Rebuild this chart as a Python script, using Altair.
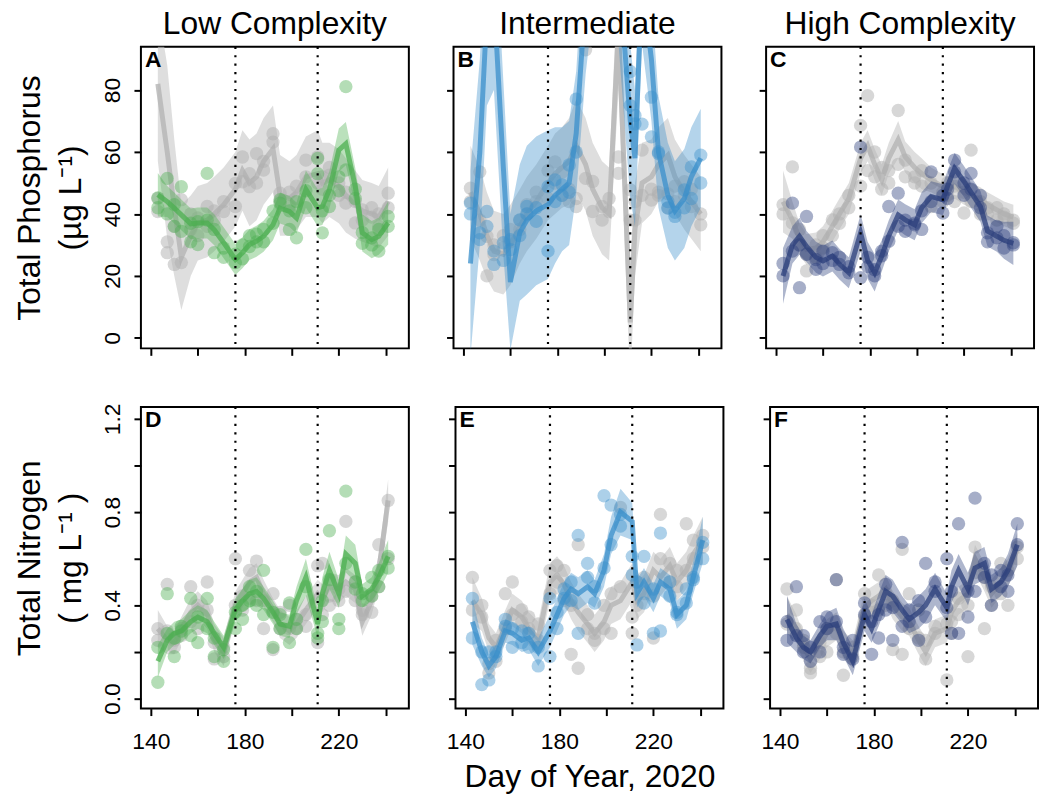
import altair as alt
import pandas as pd

FONT = "Liberation Sans"

# ---------------- shared values ----------------
days = [143, 147, 150, 153, 157, 160, 164, 167, 171, 176, 179, 182, 185, 188, 192,
        195, 199, 202, 206, 211, 213, 216, 220, 223, 227, 230, 234, 237, 241]
intervention_days = [176, 211]
x_ticks = [140, 160, 180, 200, 220, 240]
tp_ticks = [0, 20, 40, 60, 80]
tn_ticks = [0, 0.2, 0.4, 0.6, 0.8, 1.0, 1.2]
column_titles = ["Low Complexity", "Intermediate", "High Complexity"]
panel_letters = ["A", "B", "C", "D", "E", "F"]

# ---------------- Panel A : TP, low complexity ----------------
A_grey_line = [82, 60, 42, 26, 33, 37, 38, 40, 43, 48, 54, 50, 52, 57, 61, 46, 45, 47, 52, 53, 50, 51, 49, 46, 43, 41, 40, 39, 44]
A_grey_hw = [25, 28, 22, 17, 13, 12, 12, 12, 12, 12, 13, 14, 14, 14, 14, 13, 12, 12, 13, 14, 13, 12, 12, 12, 11, 10, 10, 10, 11]
A_grey_p1 = [40.8, 27.5, 23.7, 24.3, 35.0, 38.7, 42.4, 38.0, 40.8, 49.9, 50.4, 48.8, 59.5, 54.2, 63.2, 46.7, 42.4, 45.0, 57.4, 58.4, 52.0, 52.5, 46.0, 43.5, 37.1, 41.3, 39.0, 36.0, 46.7]
A_grey_p2 = [45.0, 31.0, 36.0, 44.6, 40.0, 33.0, 36.0, 41.0, 44.0, 42.4, 58.4, 53.0, 50.0, 57.0, 65.9, 44.0, 47.0, 49.0, 52.0, 50.0, 48.0, 55.0, 50.0, 47.0, 44.0, 38.0, 42.0, 40.0, 42.0]
A_trt_line = [46.2, 44.0, 41.9, 39.7, 36.8, 37.1, 37.1, 34.9, 30.7, 25.3, 27.5, 30.1, 31.2, 32.8, 36.5, 41.9, 40.8, 38.7, 48.0, 42.0, 42.4, 47.8, 60.6, 62.7, 48.8, 33.9, 31.7, 32.8, 37.1]
A_trt_hw = [7, 5, 5, 5, 5, 5, 5, 5, 5, 5, 5, 5, 5, 5, 5, 5, 5, 5, 6, 6, 6, 6, 7, 7, 6, 6, 6, 6, 7]
A_trt_p1 = [45.2, 51.5, 36.0, 48.8, 37.0, 30.1, 53.1, 27.5, 26.0, 24.3, 25.5, 29.5, 33.5, 31.0, 41.0, 44.6, 35.0, 32.3, 47.5, 57.9, 33.9, 42.4, 52.0, 81.1, 45.0, 30.5, 32.3, 28.0, 39.2]
A_trt_p2 = [42.0, 40.0, 43.0, 34.4, 31.0, 37.5, 38.0, 35.0, 29.0, 27.0, 30.0, 33.0, 31.0, 35.0, 37.0, 43.5, 41.0, 44.0, 42.0, 53.0, 41.0, 46.0, 47.5, 54.2, 48.0, 34.0, 30.0, 35.0, 36.0]

# ---------------- Panel B : TP, intermediate ----------------
B_grey_line = [47, 40, 33, 28, 27, 30, 36, 40, 44, 50, 53, 55, 57, 62, 56, 48, 42, 40, 100, 5, 35, 50, 52, 56, 59, 52, 47, 44, 40]
B_grey_hw = [15, 15, 14, 13, 13, 13, 12, 12, 12, 12, 13, 13, 14, 15, 15, 15, 15, 15, 20, 20, 15, 13, 12, 12, 12, 12, 12, 12, 12]
B_grey_p1 = [48.3, 53.6, 20.0, 26.9, 29.0, 35.0, 35.0, 40.0, 44.0, 54.0, 56.8, 53.5, 44.0, 45.0, 93.0, 50.5, 42.4, 40.8, 53.1, 47.8, 38.0, 46.0, 44.5, 47.0, 46.5, 49.0, 50.4, 42.4, 36.5]
B_grey_p2 = [44.0, 38.0, 32.8, 30.0, 33.0, 31.0, 38.0, 43.0, 47.0, 45.0, 50.0, 46.0, 48.0, 42.4, 51.5, 40.8, 38.0, 45.0, 58.4, 38.0, 44.0, 60.6, 48.0, 46.0, 42.0, 44.0, 46.0, 48.0, 40.0]
B_trt_line = [24, 60, 105, 110, 55, 18, 34, 38, 41, 43, 46, 48, 50, 66, 110, 130, 140, 130, 120, 70, 58, 115, 90, 60, 46, 41, 45, 52, 58]
B_trt_hw = [30, 30, 30, 30, 28, 22, 22, 24, 24, 24, 22, 20, 20, 20, 25, 25, 25, 25, 25, 25, 22, 20, 20, 18, 17, 16, 16, 16, 16]
B_trt_p1 = [43.5, 33.9, 40.8, 23.7, 30.7, 28.5, 38.1, 42.4, 42.0, 48.8, 51.0, 49.4, 55.8, 77.1, 100, 120, 130, 120, 110, 86.0, 71.8, 69.0, 64.9, 59.5, 41.9, 40.5, 47.8, 55.2, 59.0]
B_trt_p2 = [40.0, 31.7, 36.0, 28.0, 25.0, 31.7, 33.0, 40.0, 37.6, 28.0, 44.0, 46.0, 47.0, 60.0, 110, 105, 115, 125, 100, 75.0, 69.1, 100, 77.7, 60.0, 44.0, 39.2, 42.0, 45.0, 50.0]

# ---------------- Panel C : TP, high complexity ----------------
C_grey_line = [44, 38, 32, 28.5, 29, 31, 36, 40, 45, 58, 62, 56, 51, 58, 64, 58.4, 55, 53, 51, 48.8, 48, 49, 47, 46, 44.6, 43, 41.3, 40, 39]
C_grey_hw = [10, 6, 5, 5, 5, 5, 5, 5, 5, 5, 5, 5, 5, 5, 6, 5, 5, 5, 4, 4, 4, 4, 4, 4, 4, 4, 4, 4, 4]
C_grey_p1 = [43.0, 37.1, 35.0, 21.6, 26.0, 33.0, 38.1, 40.0, 46.0, 68.6, 78.2, 60.0, 48.0, 54.0, 73.4, 52.0, 52.0, 49.0, 50.0, 44.0, 46.0, 49.0, 40.3, 60.6, 40.0, 40.0, 42.0, 39.0, 38.0]
C_grey_p2 = [40.0, 55.2, 30.0, 27.0, 30.0, 29.0, 33.0, 37.0, 42.0, 49.0, 54.0, 52.0, 55.0, 50.0, 56.0, 57.4, 50.0, 54.0, 42.4, 47.0, 50.0, 44.0, 47.0, 44.0, 44.0, 42.0, 38.0, 40.0, 37.0]
C_trt_line = [20.0, 30.0, 32.8, 29.5, 26.0, 24.8, 26.4, 23.8, 21.0, 33.9, 25.0, 21.0, 26.4, 33.0, 39.7, 38.1, 36.5, 42.0, 45.6, 44.6, 49.0, 54.7, 50.5, 47.0, 42.4, 34.5, 32.8, 31.5, 30.5]
C_trt_hw = [9, 6, 6, 5, 5, 5, 5, 5, 5, 6, 6, 6, 5, 5, 5, 5, 5, 5, 5, 5, 5, 5, 5, 5, 5, 5, 5, 6, 7]
C_trt_p1 = [20.0, 43.5, 16.2, 39.2, 25.3, 28.0, 25.0, 23.7, 21.0, 61.6, 23.0, 20.0, 26.5, 42.4, 46.7, 34.4, 36.5, 35.0, 53.6, 46.0, 45.0, 57.4, 50.0, 48.0, 42.0, 33.9, 32.3, 29.0, 30.7]
C_trt_p2 = [24.0, 28.0, 30.0, 27.0, 22.1, 24.0, 27.5, 26.0, 23.0, 19.4, 26.0, 22.0, 28.0, 31.2, 36.0, 38.0, 37.0, 41.0, 44.0, 40.3, 48.0, 53.6, 46.0, 53.1, 46.0, 31.0, 36.0, 33.0, 30.0]

# ---------------- Panel D : TN, low complexity ----------------
D_grey_line = [0.30, 0.25, 0.24, 0.30, 0.37, 0.40, 0.36, 0.26, 0.20, 0.40, 0.45, 0.50, 0.52, 0.45, 0.38, 0.32, 0.29, 0.32, 0.38, 0.45, 0.43, 0.48, 0.47, 0.50, 0.47, 0.33, 0.42, 0.55, 0.85]
D_grey_hw = [0.08, 0.06, 0.05, 0.05, 0.06, 0.06, 0.06, 0.06, 0.06, 0.06, 0.06, 0.06, 0.06, 0.06, 0.05, 0.06, 0.06, 0.06, 0.06, 0.06, 0.06, 0.06, 0.06, 0.06, 0.06, 0.06, 0.06, 0.07, 0.09]
D_grey_p1 = [0.25, 0.49, 0.25, 0.30, 0.48, 0.30, 0.50, 0.17, 0.18, 0.60, 0.38, 0.55, 0.59, 0.30, 0.21, 0.30, 0.30, 0.30, 0.31, 0.57, 0.58, 0.44, 0.47, 0.76, 0.42, 0.36, 0.37, 0.66, 0.85]
D_grey_p2 = [0.30, 0.29, 0.22, 0.27, 0.33, 0.40, 0.38, 0.24, 0.22, 0.40, 0.44, 0.43, 0.42, 0.42, 0.45, 0.37, 0.40, 0.34, 0.36, 0.24, 0.36, 0.40, 0.42, 0.46, 0.50, 0.38, 0.44, 0.48, 0.60]
D_trt_line = [0.16, 0.25, 0.28, 0.29, 0.33, 0.35, 0.33, 0.28, 0.22, 0.38, 0.42, 0.45, 0.46, 0.43, 0.37, 0.32, 0.31, 0.42, 0.52, 0.32, 0.45, 0.55, 0.45, 0.62, 0.58, 0.44, 0.47, 0.52, 0.61]
D_trt_hw = [0.07, 0.05, 0.05, 0.05, 0.05, 0.05, 0.05, 0.05, 0.05, 0.05, 0.05, 0.06, 0.06, 0.05, 0.05, 0.05, 0.05, 0.06, 0.08, 0.06, 0.07, 0.08, 0.06, 0.08, 0.08, 0.05, 0.05, 0.06, 0.07]
D_trt_p1 = [0.07, 0.45, 0.18, 0.29, 0.43, 0.24, 0.43, 0.18, 0.16, 0.37, 0.40, 0.48, 0.46, 0.55, 0.22, 0.36, 0.24, 0.34, 0.64, 0.26, 0.33, 0.72, 0.34, 0.89, 0.47, 0.42, 0.52, 0.48, 0.61]
D_trt_p2 = [0.22, 0.28, 0.26, 0.31, 0.27, 0.35, 0.30, 0.26, 0.21, 0.30, 0.34, 0.42, 0.40, 0.36, 0.37, 0.30, 0.41, 0.30, 0.48, 0.28, 0.42, 0.51, 0.30, 0.58, 0.50, 0.45, 0.44, 0.55, 0.56]

# ---------------- Panel E : TN, intermediate ----------------
E_grey_line = [0.42, 0.36, 0.26, 0.22, 0.31, 0.38, 0.35, 0.30, 0.26, 0.50, 0.53, 0.49, 0.42, 0.37, 0.32, 0.28, 0.33, 0.40, 0.42, 0.50, 0.42, 0.45, 0.55, 0.52, 0.57, 0.50, 0.55, 0.62, 0.68]
E_grey_hw = [0.10, 0.07, 0.06, 0.06, 0.07, 0.07, 0.07, 0.07, 0.07, 0.08, 0.08, 0.08, 0.08, 0.08, 0.08, 0.08, 0.08, 0.08, 0.08, 0.08, 0.08, 0.08, 0.08, 0.08, 0.08, 0.08, 0.08, 0.08, 0.10]
E_grey_p1 = [0.38, 0.35, 0.11, 0.16, 0.30, 0.50, 0.33, 0.30, 0.25, 0.45, 0.57, 0.55, 0.19, 0.66, 0.30, 0.25, 0.40, 0.28, 0.82, 0.28, 0.40, 0.45, 0.26, 0.79, 0.58, 0.48, 0.75, 0.68, 0.70]
E_grey_p2 = [0.52, 0.40, 0.15, 0.25, 0.45, 0.36, 0.38, 0.35, 0.32, 0.55, 0.50, 0.42, 0.40, 0.13, 0.36, 0.28, 0.30, 0.45, 0.48, 0.35, 0.50, 0.52, 0.44, 0.60, 0.50, 0.55, 0.55, 0.60, 0.65]
E_trt_line = [0.33, 0.20, 0.14, 0.18, 0.29, 0.28, 0.25, 0.26, 0.20, 0.29, 0.36, 0.43, 0.47, 0.45, 0.48, 0.45, 0.55, 0.70, 0.80, 0.76, 0.45, 0.50, 0.43, 0.50, 0.47, 0.36, 0.40, 0.52, 0.68]
E_trt_hw = [0.10, 0.06, 0.05, 0.05, 0.05, 0.05, 0.05, 0.05, 0.06, 0.07, 0.07, 0.07, 0.07, 0.07, 0.07, 0.06, 0.07, 0.08, 0.10, 0.08, 0.06, 0.06, 0.06, 0.06, 0.06, 0.06, 0.06, 0.07, 0.10]
E_trt_p1 = [0.26, 0.06, 0.08, 0.20, 0.31, 0.22, 0.29, 0.22, 0.14, 0.18, 0.30, 0.43, 0.42, 0.70, 0.58, 0.41, 0.87, 0.83, 0.79, 0.61, 0.23, 0.61, 0.28, 0.71, 0.50, 0.37, 0.41, 0.51, 0.67]
E_trt_p2 = [0.43, 0.20, 0.20, 0.18, 0.34, 0.30, 0.24, 0.28, 0.22, 0.43, 0.37, 0.47, 0.50, 0.28, 0.52, 0.48, 0.56, 0.66, 0.74, 0.53, 0.50, 0.41, 0.47, 0.29, 0.44, 0.36, 0.47, 0.52, 0.60]

# ---------------- Panel F : TN, high complexity ----------------
F_grey_line = [0.36, 0.30, 0.22, 0.17, 0.23, 0.28, 0.31, 0.23, 0.19, 0.39, 0.42, 0.44, 0.47, 0.40, 0.35, 0.33, 0.25, 0.20, 0.28, 0.30, 0.37, 0.42, 0.45, 0.60, 0.52, 0.45, 0.50, 0.54, 0.64]
F_grey_hw = [0.08, 0.06, 0.06, 0.06, 0.06, 0.06, 0.06, 0.06, 0.06, 0.07, 0.06, 0.06, 0.06, 0.06, 0.06, 0.06, 0.06, 0.06, 0.06, 0.06, 0.06, 0.06, 0.06, 0.06, 0.06, 0.06, 0.06, 0.06, 0.07]
F_grey_p1 = [0.47, 0.38, 0.22, 0.11, 0.18, 0.20, 0.51, 0.10, 0.18, 0.45, 0.40, 0.53, 0.40, 0.21, 0.64, 0.45, 0.38, 0.17, 0.28, 0.08, 0.28, 0.36, 0.18, 0.65, 0.30, 0.40, 0.58, 0.40, 0.65]
F_grey_p2 = [0.32, 0.30, 0.25, 0.13, 0.24, 0.30, 0.28, 0.20, 0.22, 0.35, 0.37, 0.38, 0.45, 0.42, 0.19, 0.30, 0.26, 0.25, 0.31, 0.32, 0.33, 0.43, 0.40, 0.54, 0.52, 0.48, 0.45, 0.55, 0.60]
F_trt_line = [0.34, 0.26, 0.22, 0.20, 0.27, 0.31, 0.32, 0.24, 0.16, 0.36, 0.30, 0.38, 0.46, 0.44, 0.38, 0.34, 0.37, 0.40, 0.47, 0.39, 0.48, 0.55, 0.47, 0.56, 0.58, 0.47, 0.50, 0.55, 0.66]
F_trt_hw = [0.10, 0.06, 0.05, 0.05, 0.05, 0.06, 0.07, 0.06, 0.06, 0.07, 0.06, 0.07, 0.07, 0.07, 0.06, 0.06, 0.07, 0.07, 0.07, 0.06, 0.07, 0.07, 0.07, 0.07, 0.07, 0.06, 0.06, 0.07, 0.09]
F_trt_p1 = [0.25, 0.48, 0.20, 0.16, 0.33, 0.30, 0.51, 0.19, 0.17, 0.41, 0.19, 0.26, 0.49, 0.25, 0.67, 0.38, 0.25, 0.58, 0.46, 0.60, 0.28, 0.75, 0.35, 0.86, 0.58, 0.40, 0.48, 0.53, 0.75]
F_trt_p2 = [0.33, 0.27, 0.27, 0.22, 0.20, 0.35, 0.33, 0.22, 0.25, 0.36, 0.33, 0.36, 0.38, 0.39, 0.31, 0.33, 0.42, 0.35, 0.50, 0.39, 0.46, 0.28, 0.46, 0.46, 0.52, 0.53, 0.55, 0.46, 0.66]

GREY_BAND = "#C8C8C8"
GREY_LINE = "#B4B4B4"
GREY_PT = "#AFAFAF"
GREEN = "#4CAF50"
BLUE = "#3A8FCB"
NAVY = "#2B3F7B"

X_DOMAIN = [135.8, 249.8]
TP_DOMAIN = [-3.4, 94.0]
TN_DOMAIN = [-0.043, 1.251]

PW, PH = 270, 304


def make_panel(idx, gl, ghw, gp1, gp2, tl, thw, tp1, tp2, color):
    row, col = idx // 3, idx % 3
    if row == 0:
        ydom, yticks = TP_DOMAIN, tp_ticks
        ytitle = ["Total Phosphorus", "(µg L⁻¹)"]
        ylabexpr = "datum.label"
    else:
        ydom, yticks = TN_DOMAIN, tn_ticks
        ytitle = ["Total Nitrogen", "( mg L⁻¹ )"]
        ylabexpr = "(round(datum.value*10) % 4 == 0) ? format(datum.value, '.1f') : ''"

    if col == 0:
        yaxis = alt.Axis(values=yticks, labelExpr=ylabexpr, labelAngle=-90,
                         labelAlign="center", labelBaseline="alphabetic",
                         labelPadding=15, title=ytitle, titlePadding=8,
                         titleLineHeight=41, minExtent=46, maxExtent=46)
    else:
        yaxis = alt.Axis(values=yticks, labels=False, title=None)

    if row == 1:
        xaxis = alt.Axis(values=x_ticks,
                         labelExpr="(datum.value % 40 == 20) ? datum.label : ''",
                         labelPadding=15, labelBaseline="top",
                         title="Day of Year, 2020" if col == 1 else None,
                         titlePadding=8)
    else:
        xaxis = alt.Axis(values=x_ticks, labels=False, title=None)

    xsc = alt.Scale(domain=X_DOMAIN, nice=False, zero=False)
    ysc = alt.Scale(domain=ydom, nice=False, zero=False)
    X = alt.X("day:Q", scale=xsc, axis=xaxis)

    def line_df(line, hw):
        return pd.DataFrame({"day": days, "y": line,
                             "lo": [a - b for a, b in zip(line, hw)],
                             "hi": [a + b for a, b in zip(line, hw)]})

    def pts_df(p1, p2):
        return pd.DataFrame({"day": days + days, "y": p1 + p2})

    gdf, tdf = line_df(gl, ghw), line_df(tl, thw)
    gpdf, tpdf = pts_df(gp1, gp2), pts_df(tp1, tp2)

    layers = [
        alt.Chart(gdf).mark_area(color=GREY_BAND, opacity=0.6, clip=True).encode(
            x=X, y=alt.Y("lo:Q", scale=ysc, axis=yaxis), y2="hi:Q"),
        alt.Chart(gdf).mark_line(color=GREY_LINE, strokeWidth=5, opacity=0.8, clip=True).encode(
            x=X, y=alt.Y("y:Q", scale=ysc, axis=yaxis)),
        alt.Chart(gpdf).mark_circle(color=GREY_PT, size=180, opacity=0.5, clip=True).encode(
            x=X, y=alt.Y("y:Q", scale=ysc, axis=yaxis)),
        alt.Chart(tdf).mark_area(color=color, opacity=0.38, clip=True).encode(
            x=X, y=alt.Y("lo:Q", scale=ysc, axis=yaxis), y2="hi:Q"),
        alt.Chart(tdf).mark_line(color=color, strokeWidth=5, opacity=0.75, clip=True).encode(
            x=X, y=alt.Y("y:Q", scale=ysc, axis=yaxis)),
        alt.Chart(tpdf).mark_circle(color=color, size=180, opacity=0.42, clip=True).encode(
            x=X, y=alt.Y("y:Q", scale=ysc, axis=yaxis)),
        alt.Chart(pd.DataFrame({"day": intervention_days})).mark_rule(
            color="black", strokeWidth=2.2, strokeDash=[2.2, 6.3]).encode(x=X),
        alt.Chart(pd.DataFrame({"lab": [panel_letters[idx]]})).mark_text(
            align="left", baseline="top", font=FONT, fontSize=23, fontWeight="bold",
            color="black").encode(text="lab:N", x=alt.value(4), y=alt.value(2)),
    ]
    props = dict(width=PW, height=PH)
    if row == 0:
        props["title"] = alt.TitleParams(text=column_titles[col], font=FONT, fontSize=32,
                                         fontWeight="normal", color="black", anchor="middle",
                                         baseline="alphabetic", offset=-20)
    return alt.layer(*layers).properties(**props)


panels = [
    make_panel(0, A_grey_line, A_grey_hw, A_grey_p1, A_grey_p2, A_trt_line, A_trt_hw, A_trt_p1, A_trt_p2, GREEN),
    make_panel(1, B_grey_line, B_grey_hw, B_grey_p1, B_grey_p2, B_trt_line, B_trt_hw, B_trt_p1, B_trt_p2, BLUE),
    make_panel(2, C_grey_line, C_grey_hw, C_grey_p1, C_grey_p2, C_trt_line, C_trt_hw, C_trt_p1, C_trt_p2, NAVY),
    make_panel(3, D_grey_line, D_grey_hw, D_grey_p1, D_grey_p2, D_trt_line, D_trt_hw, D_trt_p1, D_trt_p2, GREEN),
    make_panel(4, E_grey_line, E_grey_hw, E_grey_p1, E_grey_p2, E_trt_line, E_trt_hw, E_trt_p1, E_trt_p2, BLUE),
    make_panel(5, F_grey_line, F_grey_hw, F_grey_p1, F_grey_p2, F_trt_line, F_trt_hw, F_trt_p1, F_trt_p2, NAVY),
]

chart = alt.vconcat(
    alt.hconcat(*panels[:3], spacing=35),
    alt.hconcat(*panels[3:], spacing=35),
    spacing=44,
).properties(
    padding={"left": 13, "top": 3, "right": 0, "bottom": 0},
    background="white",
).configure_view(
    stroke="black", strokeWidth=2
).configure_axis(
    domain=False, grid=False, tickColor="black", tickWidth=2, tickSize=7,
    labelFont=FONT, labelFontSize=23, labelColor="black",
    titleFont=FONT, titleFontSize=32, titleFontWeight="normal", titleColor="black"
)

chart.save("out.html", embed_options={"renderer": "svg", "actions": False})
